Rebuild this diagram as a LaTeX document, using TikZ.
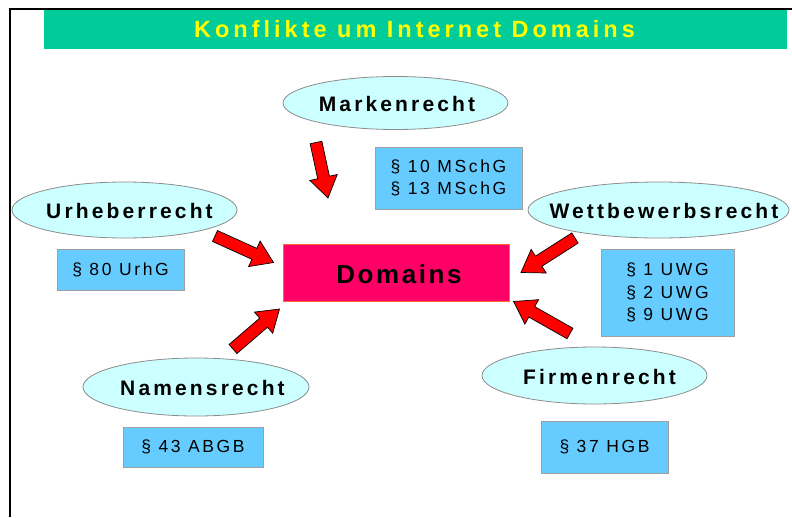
\documentclass[tikz,border=0pt]{standalone}
\usepackage{fontspec}
\setmainfont{Liberation Sans}
\newfontfamily\titlefont[LetterSpace=17]{Liberation Sans}
\newfontfamily\ellfont[LetterSpace=15]{Liberation Sans}
\newfontfamily\domfont[LetterSpace=10]{Liberation Sans}
\newfontfamily\boxfont[LetterSpace=15]{Liberation Sans}
\usetikzlibrary{shapes.geometric,calc}
\definecolor{bargreen}{HTML}{00CC99}
\definecolor{titleyellow}{HTML}{FFFF00}
\definecolor{ellfill}{HTML}{CCFFFF}
\definecolor{boxfill}{HTML}{66CCFF}
\definecolor{domfill}{HTML}{FF0066}
\definecolor{domborder}{HTML}{FF6633}
\definecolor{arrred}{HTML}{FF0000}
\newcommand{\blockarrow}[2]{%
  \path ($(#2)!21pt!(#1)$) coordinate (neck);
  \draw[arrowstyle] ($(#1)!6pt!90:(#2)$) -- ($(neck)!6pt!-90:(#1)$)
    -- ($(neck)!14pt!-90:(#1)$) -- (#2) -- ($(neck)!14pt!90:(#1)$)
    -- ($(neck)!6pt!90:(#1)$) -- ($(#1)!6pt!-90:(#2)$) -- cycle;}
\tikzset{
  ell/.style={ellipse, draw=gray!90, line width=0.8pt, fill=ellfill, inner sep=0pt},
  elltext/.style={font=\ellfont\fontsize{21}{24}\selectfont\bfseries, inner sep=0pt},
  parbox/.style={draw=gray!75, line width=1pt, fill=boxfill, inner sep=0pt,
    align=center, font=\boxfont\fontsize{17.5}{22.5}\selectfont},
  arrowstyle/.style={fill=arrred, draw=black, line width=0.7pt, line join=miter},
  frameline/.style={line width=2pt, black}
}
\begin{document}
\begin{tikzpicture}[x=1pt,y=-1pt]
\useasboundingbox (0,0) rectangle (792,517);
% frame
\coordinate (fTL) at (10,8.5);
\coordinate (fTR) at (792,8.5);
\coordinate (fBL) at (10,517);
\draw[frameline] (fTR) -- (fTL) -- (fBL);
% title bar
\node[fill=bargreen, minimum width=743pt, minimum height=39pt, inner sep=0pt] (bar) at (415.5,29.5) {};
\node[font=\titlefont\fontsize{23.5}{26}\selectfont\bfseries, text=titleyellow, inner sep=0pt] (title) at (414.5,29.5) {Konflikte um Internet Domains};
% central box
\node[fill=domfill, draw=domborder, line width=0.8pt, minimum width=226pt, minimum height=57pt, inner sep=0pt] (dom) at (396,272.5) {};
\node[font=\domfont\fontsize{26}{30}\selectfont\bfseries, inner sep=0pt] (domt) at (399,274) {Domains};
% ellipses
\node[ell, minimum width=225pt, minimum height=53pt] (mark) at (395.5,103) {};
\node[elltext] (markt) at (397,103.5) {Markenrecht};
\node[ell, minimum width=225pt, minimum height=56pt] (urh) at (124.5,210) {};
\node[elltext] (urht) at (129.5,210.5) {Urheberrecht};
\node[ell, minimum width=261pt, minimum height=56pt] (wett) at (658.5,210) {};
\node[elltext] (wettt) at (664,210.5) {Wettbewerbsrecht};
\node[ell, minimum width=226pt, minimum height=58pt] (nam) at (196,387) {};
\node[elltext] (namt) at (202.5,388) {Namensrecht};
\node[ell, minimum width=225pt, minimum height=57pt] (firm) at (594.5,375.5) {};
\node[elltext] (firmt) at (599.5,376.5) {Firmenrecht};
% paragraph boxes
\node[parbox, minimum width=147pt, minimum height=62pt] (msch) at (448.5,178) {§ 10 MSchG\\§ 13 MSchG};
\node[parbox, minimum width=127pt, minimum height=41pt] (urhg) at (120.5,269.5) {§ 80 UrhG};
\node[parbox, minimum width=133pt, minimum height=87pt] (uwg) at (667.5,292.5) {§ 1 UWG\\§ 2 UWG\\§ 9 UWG};
\node[parbox, minimum width=140pt, minimum height=40pt] (abgb) at (193,447) {§ 43 ABGB};
\node[parbox, minimum width=127pt, minimum height=52pt] (hgb) at (604.5,447) {§ 37 HGB};
% arrows
\coordinate (a1s) at (316,142.5); \coordinate (a1e) at (328,198);
\coordinate (a2s) at (215,236);   \coordinate (a2e) at (273.5,262.5);
\coordinate (a3s) at (233,349);   \coordinate (a3e) at (279.5,309);
\coordinate (a4s) at (575,238);   \coordinate (a4e) at (521,272.5);
\coordinate (a5s) at (570,333.5); \coordinate (a5e) at (513.5,301.5);
\blockarrow{a1s}{a1e}
\blockarrow{a2s}{a2e}
\blockarrow{a3s}{a3e}
\blockarrow{a4s}{a4e}
\blockarrow{a5s}{a5e}
\end{tikzpicture}
\end{document}
